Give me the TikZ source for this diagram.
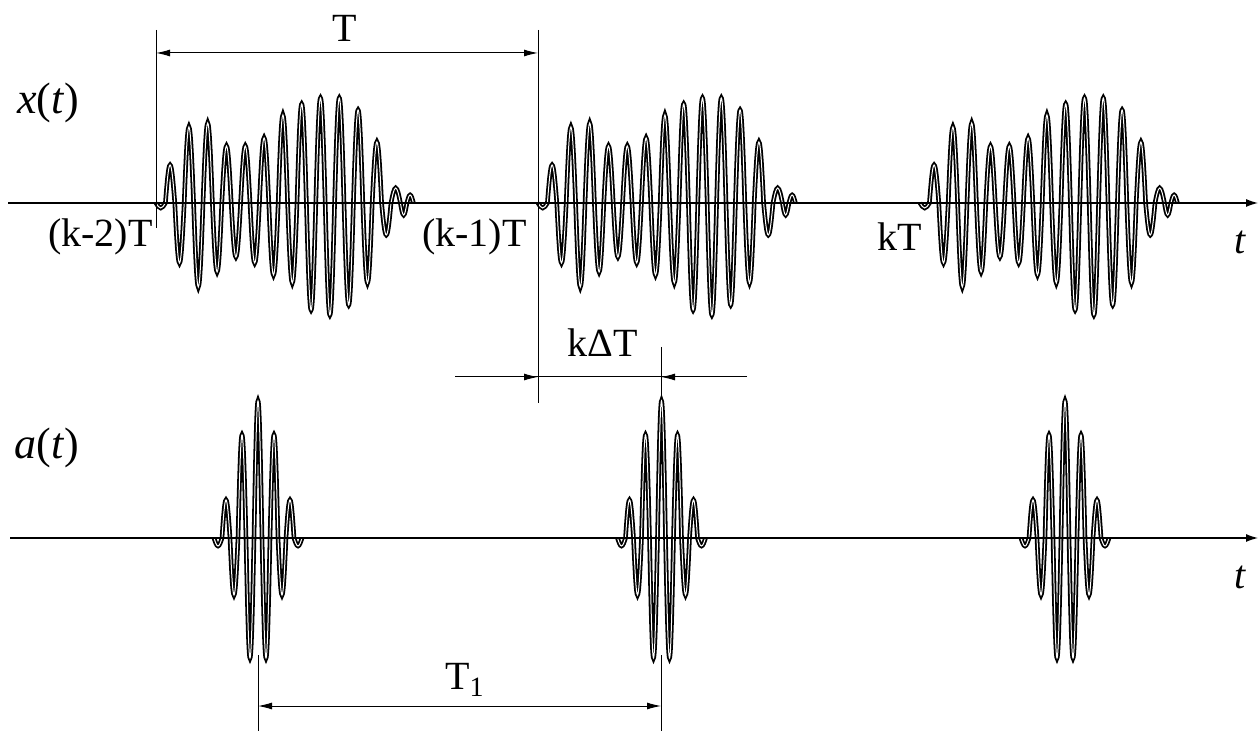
\documentclass[tikz,border=0pt]{standalone}
\usepackage{fontspec}
\setmainfont{Liberation Serif}
\usetikzlibrary{arrows.meta}
\begin{document}
\begin{tikzpicture}[x=0.5pt,y=-0.5pt,
  axis/.style={line width=0.6pt,-{Latex[length=6pt,width=4pt]}},
  ext/.style={line width=0.5pt},
  dimtip/.style={-{Latex[length=7pt,width=3.5pt]}},
  dim/.style={line width=0.5pt,{Latex[length=7pt,width=3.5pt]}-{Latex[length=7pt,width=3.5pt]}},
  wave/.style={line width=0.9pt,double=white,double distance=0.5pt},
  lbl/.style={font=\fontsize{20}{24}\selectfont,inner sep=0pt}]
\useasboundingbox (0,0) rectangle (1258,731);
\foreach \s in {156,538,920}
  \draw[wave] (\s,203) \foreach \w/\a in {9.4/-5,9.4/38,9.4/-60,9.4/76,9.4/-84,9.4/80,9.4/-69,9.4/57,9.4/-54,9.4/57,9.4/-60,9.4/65,9.4/-72,9.4/88,9.4/-80,9.4/99,9.4/-107,9.4/105,9.4/-112,9.4/105,9.4/-102,9.4/93,9.4/-80,9.4/61,9.4/-32,9.4/15,6.5/-12,6.5/8} { sin ++({\w/2},{-(\a)}) cos ++({\w/2},\a) };
\foreach \c in {258,661.5,1065}
  \draw[wave] ({\c-44},538) \foreach \a in {-8,38,-57,103,-120,137,-120,103,-57,38,-8} { sin ++(4,{-(\a)}) cos ++(4,\a) };
\coordinate (xo) at (8,203);
\coordinate (xe) at (1258,203);
\coordinate (ao) at (10,538);
\coordinate (ae) at (1258,538);
\draw[axis] (xo) -- (xe);
\draw[axis] (ao) -- (ae);
\draw[ext] (156,30) -- (156,228);
\draw[ext] (538,30) -- (538,403);
\coordinate (Ta) at (156,53);
\coordinate (Tb) at (538,53);
\draw[dim] (Ta) -- (Tb);
\coordinate (da) at (455,377);
\coordinate (db) at (538,377);
\coordinate (dc) at (661,377);
\coordinate (dd) at (747,377);
\draw[ext] (da) -- (dd);
\draw[ext,dimtip] (da) -- (db);
\draw[ext,dimtip] (dd) -- (dc);
\draw[ext] (661,347) -- (661,397);
\draw[ext] (258,655) -- (258,731);
\draw[ext] (661,655) -- (661,731);
\coordinate (Ua) at (258,706);
\coordinate (Ub) at (661,706);
\draw[dim] (Ua) -- (Ub);
\node[lbl] (T) at (345,28) {T};
\node[lbl,font=\fontsize{22}{26}\selectfont] (xt) at (48,103) {\textit{x}(\textit{t})};
\node[lbl,font=\fontsize{22}{26}\selectfont] (at) at (47,448) {\textit{a}(\textit{t})};
\node[lbl,anchor=east] (k2T) at (153,237) {(k-2)T};
\node[lbl,anchor=east] (k1T) at (527,237) {(k-1)T};
\node[lbl,anchor=east] (kT) at (922,237) {kT};
\node[lbl] (dT) at (603,343) {kΔT};
\node[lbl] (T1) at (465,680) {T\textsubscript{1}};
\node[lbl] (t1) at (1240,242) {\textit{t}};
\node[lbl] (t2) at (1240,577) {\textit{t}};
\end{tikzpicture}
\end{document}
